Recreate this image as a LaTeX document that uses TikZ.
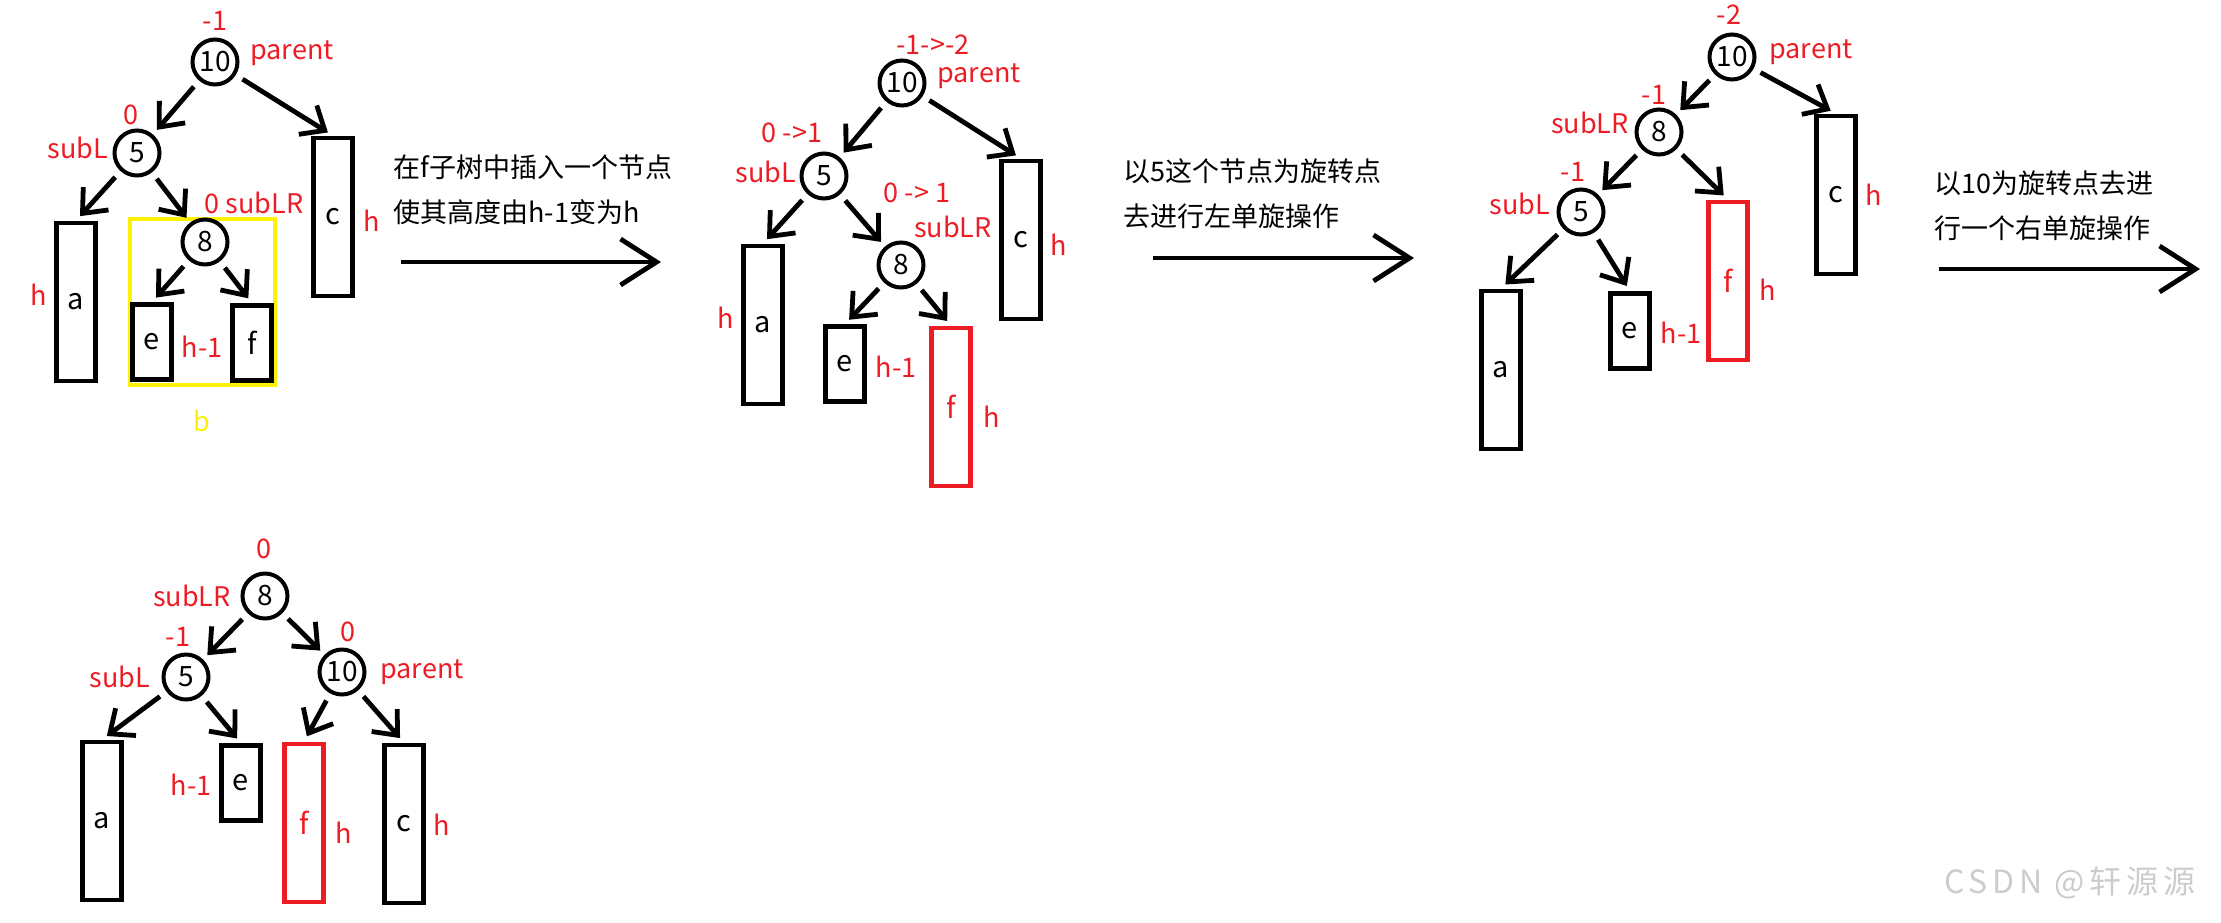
\documentclass[tikz,border=0pt]{standalone}
\usepackage{fontspec}
\setmainfont{Noto Sans CJK SC}
\newfontfamily\markfont[LetterSpace=15]{Noto Sans CJK SC}
\usetikzlibrary{arrows.meta}
\definecolor{paintred}{RGB}{237,28,36}
\definecolor{paintyellow}{RGB}{255,242,0}

\begin{document}
\begin{tikzpicture}[x=0.5pt,y=-0.5pt,
    treenode/.style={circle,draw,line width=2pt,minimum size=22.5pt,inner sep=0pt,font=\fontsize{14}{16}\selectfont},
    hbox/.style={draw,line width=2.4pt,minimum width=19.5pt,minimum height=79pt,inner sep=0pt,font=\fontsize{14.5}{16}\selectfont},
    hmbox/.style={hbox,minimum height=37.5pt},
    redbox/.style={draw=paintred,text=paintred},
    lbl/.style={text=paintred,inner sep=0pt,font=\fontsize{13.5}{16}\selectfont},
    arr/.style={-{Straight Barb[length=10pt,width=17pt]},line width=2.4pt,shorten <=4pt,shorten >=3pt},
    bigarr/.style={-{Straight Barb[length=18pt,width=23pt]},line width=2.4pt},
    remark/.style={anchor=west,align=left,inner sep=0pt,font=\fontsize{13.5}{22.5}\selectfont}]
    \useasboundingbox (0,0) rectangle (2221,922);

    % before insertion
    \node[draw=paintyellow,line width=2.4pt,minimum width=72.5pt,minimum height=83pt] (t1b) at (202.5,302) {};
    \node[lbl,text=paintyellow] (t1blbl) at (202,421) {b};
    \node[treenode] (t1n10) at (215,62) {10};
    \node[treenode] (t1n5) at (137,153) {5};
    \node[treenode] (t1n8) at (205,242) {8};
    \node[hbox] (t1a) at (76,302) {a};
    \node[hbox] (t1c) at (333,217) {c};
    \node[hmbox] (t1e) at (152,342) {e};
    \node[hmbox] (t1f) at (252,343) {f};
    \node[lbl] (t1bf10) at (215,21) {-1};
    \node[lbl] (t1par) at (292,53) {parent};
    \node[lbl] (t1bf5) at (131,115) {0};
    \node[lbl] (t1subl) at (78,148) {subL};
    \node[lbl] (t1sublr) at (254,203) {0 subLR};
    \node[lbl] (t1ha) at (39,295) {h};
    \node[lbl] (t1hef) at (202,347) {h-1};
    \node[lbl] (t1hc) at (372,221) {h};

    \node[remark] (t1txt) at (393,190) {在f子树中插入一个节点\\使其高度由h-1变为h};
    \coordinate (s1a) at (401,262);
    \coordinate (s1b) at (661,262);

    % after insertion
    \node[treenode] (t2n10) at (902,83) {10};
    \node[treenode] (t2n5) at (824,176) {5};
    \node[treenode] (t2n8) at (901,265) {8};
    \node[hbox] (t2a) at (763,325) {a};
    \node[hbox] (t2c) at (1021,240) {c};
    \node[hmbox] (t2e) at (845,364) {e};
    \node[hbox,redbox] (t2f) at (951,407) {f};
    \node[lbl] (t2bf10) at (933,45) {-1->-2};
    \node[lbl] (t2par) at (979,76) {parent};
    \node[lbl] (t2bf5) at (792,133) {0 ->1};
    \node[lbl] (t2subl) at (766,172) {subL};
    \node[lbl] (t2bf8) at (917,193) {0 -> 1};
    \node[lbl] (t2sublr) at (953,227) {subLR};
    \node[lbl] (t2ha) at (726,318) {h};
    \node[lbl] (t2he) at (896,367) {h-1};
    \node[lbl] (t2hf) at (992,417) {h};
    \node[lbl] (t2hc) at (1059,245) {h};

    \node[remark] (t2txt) at (1123,194) {以5这个节点为旋转点\\去进行左单旋操作};
    \coordinate (s2a) at (1153,258);
    \coordinate (s2b) at (1414,258);

    % after left rotation
    \node[treenode] (t3n10) at (1732,57) {10};
    \node[treenode] (t3n8) at (1659,132) {8};
    \node[treenode] (t3n5) at (1581,212) {5};
    \node[hbox] (t3a) at (1501,370) {a};
    \node[hbox] (t3c) at (1836,195) {c};
    \node[hmbox] (t3e) at (1630,331) {e};
    \node[hbox,redbox] (t3f) at (1728,281) {f};
    \node[lbl] (t3bf10) at (1729,15) {-2};
    \node[lbl] (t3par) at (1811,52) {parent};
    \node[lbl] (t3bf8) at (1654,95) {-1};
    \node[lbl] (t3sublr) at (1590,123) {subLR};
    \node[lbl] (t3bf5) at (1573,172) {-1};
    \node[lbl] (t3subl) at (1520,204) {subL};
    \node[lbl] (t3he) at (1681,333) {h-1};
    \node[lbl] (t3hf) at (1768,290) {h};
    \node[lbl] (t3hc) at (1874,195) {h};

    \node[remark] (t3txt) at (1934,206) {以10为旋转点去进\\行一个右单旋操作};
    \coordinate (s3a) at (1939,269);
    \coordinate (s3b) at (2200,269);

    % after right rotation
    \node[treenode] (t4n8) at (265,596) {8};
    \node[treenode] (t4n5) at (186,677) {5};
    \node[treenode] (t4n10) at (342,672) {10};
    \node[hbox] (t4a) at (102,821) {a};
    \node[hmbox] (t4e) at (241,783) {e};
    \node[hbox,redbox] (t4f) at (304,823) {f};
    \node[hbox] (t4c) at (404,824) {c};
    \node[lbl] (t4bf8) at (264,549) {0};
    \node[lbl] (t4sublr) at (192,596) {subLR};
    \node[lbl] (t4bf5) at (178,637) {-1};
    \node[lbl] (t4subl) at (120,677) {subL};
    \node[lbl] (t4bf10) at (348,632) {0};
    \node[lbl] (t4par) at (422,672) {parent};
    \node[lbl] (t4he) at (191,785) {h-1};
    \node[lbl] (t4hf) at (344,833) {h};
    \node[lbl] (t4hc) at (442,825) {h};

    \node[text=black!20,inner sep=0pt,font=\markfont\fontsize{16}{18}\selectfont] (mark) at (2070,883) {CSDN @轩源源};

    \foreach \s/\t in {t1n10/t1n5,t1n10/t1c.north,t1n5/t1a.north,t1n5/t1n8,t1n8/t1e.north,t1n8/t1f.north,
                       t2n10/t2n5,t2n10/t2c.north,t2n5/t2a.north,t2n5/t2n8,t2n8/t2e.north,t2n8/t2f.north,
                       t3n10/t3n8,t3n10/t3c.north,t3n8/t3n5,t3n8/t3f.north,t3n5/t3a.north,t3n5/t3e.north,
                       t4n8/t4n5,t4n8/t4n10,t4n5/t4a.north,t4n5/t4e.north,t4n10/t4f.north,t4n10/t4c.north}
        \draw[arr] (\s) -- (\t);

    \foreach \i in {1,2,3}
        \draw[bigarr] (s\i a) -- (s\i b);
\end{tikzpicture}
\end{document}
